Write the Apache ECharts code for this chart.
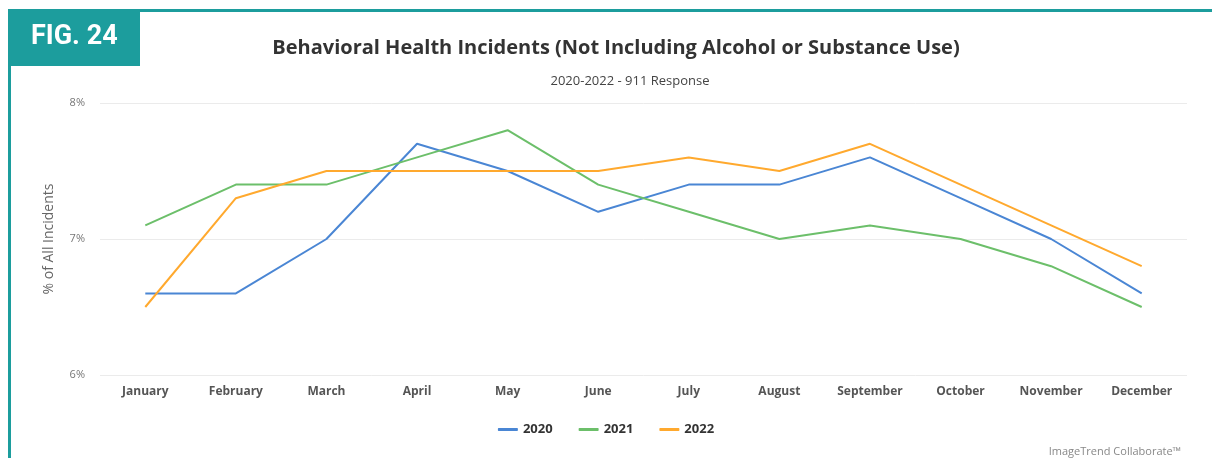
<!DOCTYPE html>
<html>
<head>
<meta charset="utf-8">
<script src="https://cdn.jsdelivr.net/npm/echarts@6/dist/echarts.min.js"></script>
<style>
  html, body { margin: 0; padding: 0; background: #ffffff; }
  #chart { width: 1212px; height: 458px; }
</style>
</head>
<body>
<div id="chart"></div>
<script>
// Months along the x axis
const months = ['January', 'February', 'March', 'April', 'May', 'June',
  'July', 'August', 'September', 'October', 'November', 'December'];

// Share of all incidents (%) per month
const values2020 = [6.6, 6.6, 7.0, 7.7, 7.5, 7.2, 7.4, 7.4, 7.6, 7.3, 7.0, 6.6];
const values2021 = [7.1, 7.4, 7.4, 7.6, 7.8, 7.4, 7.2, 7.0, 7.1, 7.0, 6.8, 6.5];
const values2022 = [6.5, 7.3, 7.5, 7.5, 7.5, 7.5, 7.6, 7.5, 7.7, 7.4, 7.1, 6.8];

const seriesNames = ['2020', '2021', '2022'];
const seriesColors = ['#4a86d4', '#6cbf6a', '#ffa92e'];
const teal = '#1c9d9d';
const font = '"Open Sans", "Noto Sans", sans-serif';

const chart = echarts.init(document.getElementById('chart'));

function line(name, data, color) {
  return {
    name: name,
    type: 'line',
    data: data,
    showSymbol: false,
    symbol: 'none',
    lineStyle: { width: 2, color: color },
    itemStyle: { color: color }
  };
}

chart.setOption({
  animation: false,
  backgroundColor: '#ffffff',
  title: [
    {
      text: 'Behavioral Health Incidents (Not Including Alcohol or Substance Use)',
      left: 611, top: 33, textAlign: 'center',
      textStyle: { fontFamily: font, fontSize: 20, fontWeight: 'bold', color: '#333333' }
    },
    {
      text: '2020-2022 - 911 Response',
      left: 625, top: 70, textAlign: 'center',
      textStyle: { fontFamily: font, fontSize: 13, fontWeight: 'normal', color: '#444444' }
    },
    {
      text: 'ImageTrend Collaborate™',
      right: 26, top: 441,
      textStyle: { fontFamily: font, fontSize: 11, fontWeight: 'normal', color: '#888888' }
    }
  ],
  legend: {
    data: seriesNames,
    left: 'center', top: 418,
    itemWidth: 20, itemHeight: 3, itemGap: 26,
    icon: 'roundRect',
    textStyle: { fontFamily: font, fontSize: 13, fontWeight: 'bold', color: '#333333' }
  },
  grid: { left: 100, right: 25, top: 103, bottom: 83 },
  xAxis: {
    type: 'category',
    data: months,
    boundaryGap: true,
    axisLine: { show: false },
    axisTick: { show: false },
    axisLabel: { fontFamily: font, fontSize: 12, color: '#555555', margin: 11, fontWeight: 'bold' }
  },
  yAxis: {
    type: 'value',
    min: 6, max: 8, interval: 1,
    name: '% of All Incidents',
    nameLocation: 'middle',
    nameGap: 44,
    nameTextStyle: { fontFamily: font, fontSize: 14, color: '#666666' },
    axisLine: { show: false },
    axisTick: { show: false },
    axisLabel: { formatter: '{value}%', fontFamily: font, fontSize: 11, color: '#777777', margin: 15 },
    splitLine: { lineStyle: { color: '#ebebeb', width: 1 } }
  },
  series: [
    line(seriesNames[0], values2020, seriesColors[0]),
    line(seriesNames[1], values2021, seriesColors[1]),
    line(seriesNames[2], values2022, seriesColors[2])
  ],
  graphic: [
    // frame lines along the top and left edges
    { type: 'rect', left: 8, top: 9, shape: { width: 1204, height: 3 }, style: { fill: teal }, z: 10 },
    { type: 'rect', left: 8, top: 9, shape: { width: 3, height: 449 }, style: { fill: teal }, z: 10 },
    // figure tag
    { type: 'rect', left: 8, top: 9, shape: { width: 132, height: 57 }, style: { fill: teal }, z: 11 },
    {
      type: 'text', left: 31, top: 24, z: 12,
      style: { text: 'FIG. 24', fill: '#ffffff', font: 'bold 27px Roboto, "DejaVu Sans", sans-serif' }
    }
  ]
});
</script>
</body>
</html>
